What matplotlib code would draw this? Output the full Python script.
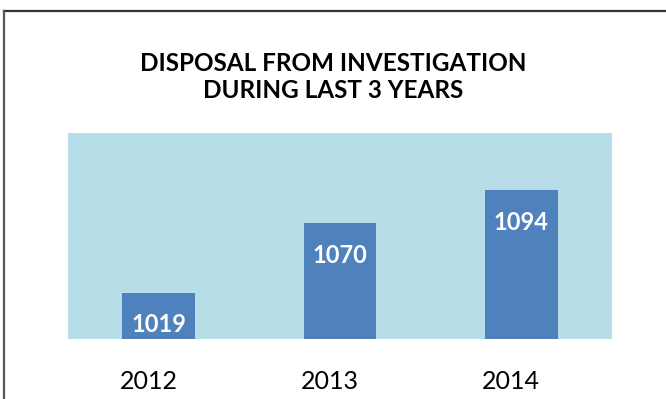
import matplotlib
matplotlib.use("Agg")
import matplotlib.pyplot as plt
from matplotlib.lines import Line2D
import matplotlib.transforms as mtransforms

years = ["2012", "2013", "2014"]
disposals = [1019, 1070, 1094]
title = "DISPOSAL FROM INVESTIGATION\nDURING LAST 3 YEARS"

plt.rcParams["font.family"] = ["Lato", "DejaVu Sans"]

fig = plt.figure(figsize=(6.66, 3.99), dpi=100)
W, H = 666, 399
ax = fig.add_axes([68 / W, (H - 339) / H, (612 - 68) / W, (339 - 133) / H])
ax.set_facecolor("#B7DDE8")

x = range(len(years))
bars = ax.bar(x, disposals, width=0.4, color="#4F81BD", zorder=2)
ax.set_xlim(-0.5, 2.5)
ax.set_ylim(985, 1136)

for b, v in zip(bars, disposals):
    ax.annotate(str(v), (b.get_x() + b.get_width() / 2, v), xytext=(0, -32),
                textcoords="offset pixels", ha="center", va="center",
                color="white", fontsize=17, fontweight="bold")

ax.set_xticks(list(x))
ax.set_xticklabels(years, fontsize=18)
ax.tick_params(axis="x", length=0, pad=22)
shift = mtransforms.ScaledTranslation(-10 / 100, 0, fig.dpi_scale_trans)
for lbl in ax.get_xticklabels():
    lbl.set_transform(lbl.get_transform() + shift)
ax.set_yticks([])
for s in ax.spines.values():
    s.set_visible(False)

fig.text(0.5, (H - 77) / H, title, ha="center", va="center",
         fontsize=17.5, fontweight="bold", linespacing=1.25)

# frame lines (top and left)
fig.add_artist(Line2D([4 / W, 1], [1 - 10.5 / H] * 2, color="#333333", lw=1.6))
fig.add_artist(Line2D([4 / W] * 2, [0, 1 - 10.5 / H], color="#555555", lw=1.6))

fig.savefig("out.png", dpi=100)
